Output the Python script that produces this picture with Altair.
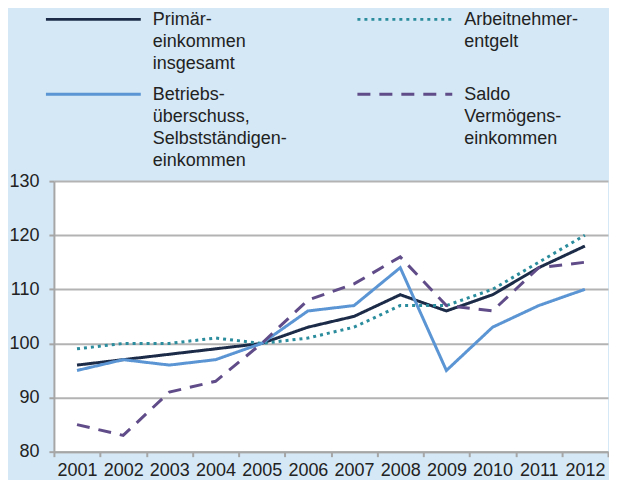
import altair as alt
import pandas as pd

years = [str(y) for y in range(2001, 2013)]
primaer = [96, 97, 98, 99, 100, 103, 105, 109, 106, 109, 114, 118]
arbeitnehmer = [99, 100, 100, 101, 100, 101, 103, 107, 107, 110, 115, 120]
betrieb = [95, 97, 96, 97, 100, 106, 107, 114, 95, 103, 107, 110]
saldo = [85, 83, 91, 93, 100, 108, 111, 116, 107, 106, 114, 115]

series = ["Primäreinkommen insgesamt", "Arbeitnehmerentgelt",
          "Betriebsüberschuss, Selbstständigeneinkommen", "Saldo Vermögenseinkommen"]
labels = ["Primär-\neinkommen\ninsgesamt", "Arbeitnehmer-\nentgelt",
          "Betriebs-\nüberschuss,\nSelbstständigen-\neinkommen", "Saldo\nVermögens-\neinkommen"]
colors = ["#1b2b48", "#2a8c9c", "#5b95d3", "#604c88"]
dashes = [[1, 0], [3, 4], [1, 0], [13, 9]]
y_ticks = [80, 90, 100, 110, 120, 130]

values = [primaer, arbeitnehmer, betrieb, saldo]
rows = []
for s, vals in zip(series, values):
    for yr, v in zip(years, vals):
        rows.append({"series": s, "year": yr, "value": v})
df = pd.DataFrame(rows)

leg_df = pd.DataFrame({
    "series": series,
    "label": labels,
    "col": [i % 2 for i in range(len(series))],
    "row": [i // 2 for i in range(len(series))],
})

FONT = "Liberation Sans"

color = alt.Color("series:N", scale=alt.Scale(domain=series, range=colors), legend=None)
dash = alt.StrokeDash("series:N", scale=alt.Scale(domain=series, range=dashes), legend=None)

lines = alt.Chart(df).mark_line(strokeWidth=3).encode(
    x=alt.X("year:O", scale=alt.Scale(type="band", paddingInner=0, paddingOuter=0),
            bandPosition=0.5,
            axis=alt.Axis(title=None, labelAngle=0, tickBand="extent", grid=False,
                          labelPadding=5)),
    y=alt.Y("value:Q", scale=alt.Scale(domain=[80, 130], nice=False),
            axis=alt.Axis(title=None, values=y_ticks, grid=True, labelPadding=10)),
    color=color,
    strokeDash=dash,
)

lx = alt.X("col:Q", scale=alt.Scale(domain=[0, 1], range=[-8, 304]), axis=None)
ly = alt.Y("row:Q", scale=alt.Scale(domain=[0, 1], range=[-162, -87]), axis=None)

leg_rule = alt.Chart(leg_df).mark_rule(strokeWidth=3, x2Offset=95).encode(
    x=lx, x2="col:Q", y=ly, color=color, strokeDash=dash
)
leg_text = alt.Chart(leg_df).mark_text(
    align="left", baseline="top", dx=107, dy=-8, fontSize=18, lineHeight=22,
    lineBreak="\n", font=FONT, color="#222222"
).encode(x=lx, y=ly, text="label:N")

chart = alt.layer(lines, leg_rule, leg_text).resolve_scale(
    x="independent", y="independent"
).properties(
    width=555, height=271,
    padding={"left": 0, "top": 3, "right": 0, "bottom": 0},
    background="#d5e8f5"
).configure_view(
    fill="white", strokeWidth=0
).configure_axis(
    domainColor="#a6a6a6", domainWidth=2, tickColor="#a6a6a6", tickWidth=2, tickSize=5,
    gridColor="#b3b3b3", gridWidth=2, labelFont=FONT, labelFontSize=18,
    labelColor="#222222"
)

chart.save("out.html", embed_options={"renderer": "svg", "actions": False})
